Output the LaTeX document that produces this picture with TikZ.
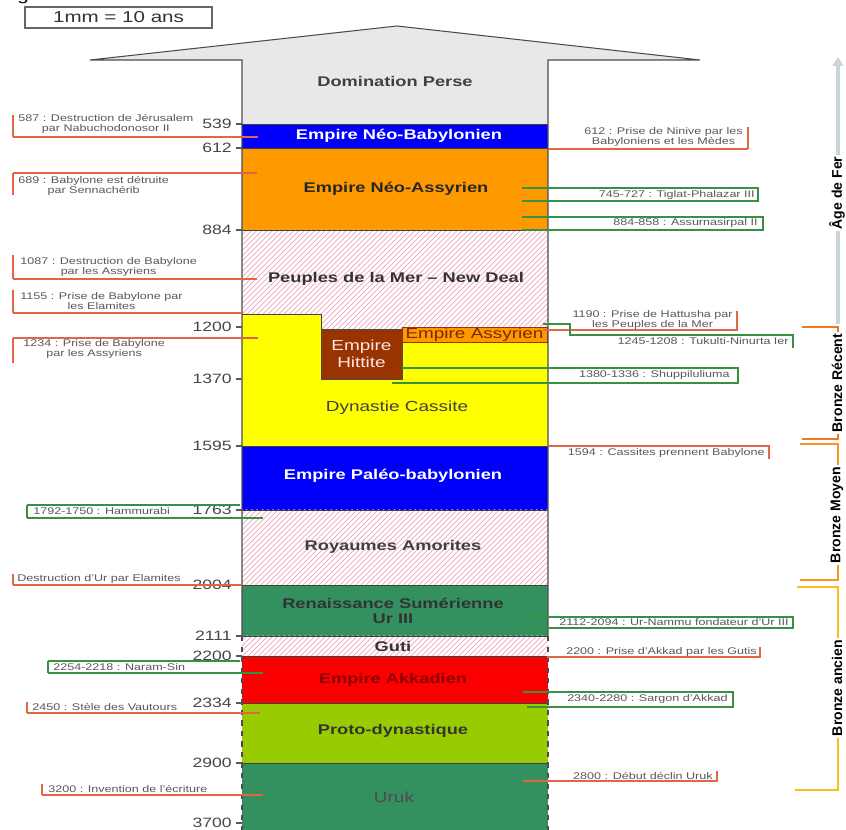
\documentclass[tikz,border=0pt]{standalone}
\usepackage{fontspec}
\setmainfont{Liberation Sans}[FakeStretch=1.3]
\newfontfamily\agefont{Liberation Sans}
\usetikzlibrary{patterns,arrows.meta,positioning}

\definecolor{perse}{RGB}{232,232,232}
\definecolor{bleu}{RGB}{0,0,250}
\definecolor{orangeass}{RGB}{255,153,0}
\definecolor{cassite}{RGB}{255,255,0}
\definecolor{hittite}{RGB}{153,51,0}
\definecolor{sumer}{RGB}{51,145,95}
\definecolor{akkad}{RGB}{250,0,0}
\definecolor{proto}{RGB}{153,204,0}
\definecolor{hachure}{RGB}{238,165,190}
\definecolor{evtrouge}{RGB}{228,100,70}
\definecolor{regnevert}{RGB}{55,145,65}
\definecolor{fer}{RGB}{200,213,218}
\definecolor{recent}{RGB}{240,120,35}
\definecolor{moyen}{RGB}{245,150,40}
\definecolor{ancien}{RGB}{250,190,35}

\begin{document}
\begin{tikzpicture}[x=0.02cm,y=-0.02cm,
  titre/.style={font=\fontsize{8}{9.5}\selectfont\bfseries,align=center,inner sep=0pt},
  region/.style={font=\fontsize{8.3}{9.5}\selectfont,align=center,inner sep=0pt},
  annee/.style={font=\fontsize{7.7}{9}\selectfont,text=black!72,inner sep=0pt},
  evt/.style={font=\fontsize{5.5}{5.8}\selectfont,text=black!65,align=center,inner sep=0pt},
  age/.style={font=\agefont\fontsize{8}{9}\selectfont\bfseries,fill=white,inner sep=1pt,rotate=90},
  hach/.style={pattern=north east lines,pattern color=hachure},
  limite/.style={draw=black!75,line width=0.5pt},
  bord/.style={draw=black!70,line width=0.6pt},
  tick/.style={draw=black!65,line width=0.6pt},
  evtbar/.style={draw=evtrouge,line width=1.4pt},
  evtline/.style={draw=evtrouge,line width=0.6pt},
  regbar/.style={draw=regnevert,line width=1.4pt},
  regline/.style={draw=regnevert,line width=0.6pt}]
\useasboundingbox (0,0) rectangle (846,830);
\fill[white] (0,0) rectangle (846,830);

% echelle
\node[anchor=south west,font=\fontsize{9}{10}\selectfont,inner sep=0pt] (fig) at (0,4) {Fig};
\draw[draw=black!60,line width=0.8pt] (25,7) rectangle (212,28);
\node[font=\fontsize{9}{10}\selectfont,text=black!80] (echelle) at (118.5,17.5) {1mm = 10 ans};

% periodes
\fill[perse] (90,60) -- (397,26) -- (700,60) -- (548,60) -- (548,124) -- (242,124) -- (242,60) -- cycle;
\fill[bleu] (242,124) rectangle (548,148);
\fill[orangeass] (242,148) rectangle (548,230);
\fill[hach] (242,230) rectangle (548,330);
\fill[cassite] (242,314) rectangle (321,446);
\fill[cassite] (321,329) rectangle (548,446);
\fill[bleu] (242,446) rectangle (548,510);
\fill[hach] (242,510) rectangle (548,585);
\fill[sumer] (242,585) rectangle (548,636);
\fill[hach] (242,636) rectangle (548,656);
\fill[akkad] (242,656) rectangle (548,703);
\fill[proto] (242,703) rectangle (548,763);
\fill[sumer] (242,763) rectangle (548,830);

\foreach \y in {124,148,230,446,510,585,636,656,703,763}
  \draw[limite] (242,\y) -- (548,\y);
\draw[limite] (242,314) -- (321,314) -- (321,329);

\node[draw=black!70,fill=hittite,text=red!10,minimum width=1.62cm,minimum height=1cm,
  region] (hittite) at (361.5,354) {Empire\\Hittite};
\node[draw=hittite,fill=orangeass,text=hittite!80!black,minimum width=2.9cm,minimum height=0.3cm,
  region] (assyrien) at (474.5,334.5) {Empire Assyrien};

\draw[bord] (242,636) -- (242,60) -- (90,60) -- (397,26) -- (700,60) -- (548,60) -- (548,636);
\draw[bord,dashed] (242,636) -- (242,830) (548,636) -- (548,830);

% noms
\node[titre,text=black!75] (perse) at (395,81) {Domination Perse};
\node[titre,text=white] (neobab) at (399,136) {Empire Néo-Babylonien};
\node[titre,text=black!85] (neoass) at (396,189) {Empire Néo-Assyrien};
\node[titre,text=black!80] (mer) at (396,279) {Peuples de la Mer – New Deal};
\node[region,text=black!75] (cassite) at (397,408) {Dynastie Cassite};
\node[titre,text=white] (paleo) at (393,476) {Empire Paléo-babylonien};
\node[titre,text=black!75] (amorites) at (393,547) {Royaumes Amorites};
\node[titre,text=black!80,font=\fontsize{8}{8.2}\selectfont\bfseries] (ur3) at (393,611) {Renaissance Sumérienne\\Ur III};
\node[titre,text=black!80] (guti) at (393,646) {Guti};
\node[titre,text=red!55!black] (akkad) at (393,680) {Empire Akkadien};
\node[titre,text=black!80] (protodyn) at (393,731) {Proto-dynastique};
\node[region,text=black!70] (uruk) at (394,797) {Uruk};

% annees
\foreach \an/\y in {539/124,612/148,884/230,1200/327,1370/379,1595/446,1763/510,
  2004/585,2111/636,2200/656,2334/703,2900/763,3700/823}{
  \node[annee,anchor=east] (a\an) at (232,\y) {\an};
  \coordinate (t\an) at (242,\y);
  \draw[tick] ([xshift=2pt]a\an.east) -- (t\an);
}

% evenements a gauche
\node[evt,anchor=west] (e587) at (18,124) {587 : Destruction de Jérusalem\\par Nabuchodonosor II};
\draw[evtbar] (13,115) -- (13,137);
\draw[evtline] (13,137) -- (258,137);
\node[evt,anchor=west] (e689) at (18,186) {689 : Babylone est détruite\\par Sennachérib};
\draw[evtbar] (13,173) -- (13,195);
\draw[evtline] (13,173) -- (257,173);
\node[evt,anchor=west] (e1087) at (20,267) {1087 : Destruction de Babylone\\par les Assyriens};
\draw[evtbar] (13,255) -- (13,279);
\draw[evtline] (13,279) -- (257,279);
\node[evt,anchor=west] (e1155) at (20,301) {1155 : Prise de Babylone par\\les Elamites};
\draw[evtbar] (13,290) -- (13,313);
\draw[evtline] (13,313) -- (242,313);
\node[evt,anchor=west] (e1234) at (23,349) {1234 : Prise de Babylone\\par les Assyriens};
\draw[evtbar] (13,338) -- (13,363);
\draw[evtline] (13,338) -- (258,338);
\node[evt,anchor=west] (hammurabi) at (33,511.5) {1792-1750 : Hammurabi};
\draw[regbar] (27,505) -- (27,518);
\draw[regline] (27,505) -- (240,505) (27,518) -- (263,518);
\node[evt,anchor=west] (eur) at (17,579) {Destruction d'Ur par Elamites};
\draw[evtbar] (13,574) -- (13,585);
\draw[evtline] (13,585) -- (242,585);
\node[evt,anchor=west] (naramsin) at (53,667) {2254-2218 : Naram-Sin};
\draw[regbar] (48,661) -- (48,673);
\draw[regline] (48,661) -- (240,661) (48,673) -- (263,673);
\node[evt,anchor=west] (e2450) at (32,707) {2450 : Stèle des Vautours};
\draw[evtbar] (27,702) -- (27,713);
\draw[evtline] (27,713) -- (260,713);
\node[evt,anchor=west] (e3200) at (48,789) {3200 : Invention de l'écriture};
\draw[evtbar] (42,784) -- (42,795);
\draw[evtline] (42,795) -- (263,795);

% evenements a droite
\node[evt,anchor=east] (e612) at (743,137) {612 : Prise de Ninive par les\\Babyloniens et les Mèdes};
\draw[evtbar] (748,127) -- (748,149);
\draw[evtline] (548,149) -- (748,149);
\node[evt,anchor=east] (tiglat) at (755,195) {745-727 : Tiglat-Phalazar III};
\draw[regbar] (758,187) -- (758,202);
\draw[regline] (522,188) -- (758,188) (522,201) -- (758,201);
\node[evt,anchor=east] (assurnasirpal) at (758,223.5) {884-858 : Assurnasirpal II};
\draw[regbar] (763,216) -- (763,231);
\draw[regline] (522,217) -- (763,217) (522,230) -- (763,230);
\node[evt,anchor=east] (e1190) at (733,320) {1190 : Prise de Hattusha par\\les Peuples de la Mer};
\draw[evtbar] (737,311) -- (737,331);
\draw[evtline] (543,330) -- (737,330);
\node[evt,anchor=east] (tukulti) at (789,341) {1245-1208 : Tukulti-Ninurta Ier};
\draw[regbar] (793,334) -- (793,348);
\draw[regline] (543,324) -- (570,324) -- (570,335) -- (793,335);
\node[evt,anchor=east] (shuppiluliuma) at (730,375.5) {1380-1336 : Shuppiluliuma};
\draw[regbar] (738,367) -- (738,384);
\draw[regline] (402,368) -- (738,368) (392,383) -- (738,383);
\node[evt,anchor=east] (e1594) at (765,453) {1594 : Cassites prennent Babylone};
\draw[evtbar] (769,445) -- (769,459);
\draw[evtline] (548,446) -- (769,446);
\node[evt,anchor=east] (urnammu) at (789,622.5) {2112-2094 : Ur-Nammu fondateur d'Ur III};
\draw[regbar] (793,616) -- (793,629);
\draw[regline] (523,617) -- (793,617) (523,628) -- (793,628);
\node[evt,anchor=east] (e2200) at (757,652) {2200 : Prise d'Akkad par les Gutis};
\draw[evtbar] (760,647) -- (760,658);
\draw[evtline] (547,657) -- (760,657);
\node[evt,anchor=east] (sargon) at (728,699.5) {2340-2280 : Sargon d'Akkad};
\draw[regbar] (733,691) -- (733,708);
\draw[regline] (523,692) -- (733,692) (527,707) -- (733,707);
\node[evt,anchor=east] (e2800) at (713,776) {2800 : Début déclin Uruk};
\draw[evtbar] (717,771) -- (717,782);
\draw[evtline] (523,781) -- (717,781);

% ages
\draw[fer,line width=2.5pt,-{Triangle[width=6pt,length=5pt]}] (838,324) -- (838,57);
\node[age] (agefer) at (837,193) {Âge de Fer};
\draw[recent,line width=1.3pt] (802,327) -- (838,327) -- (838,439) -- (802,439);
\node[age] (brecent) at (837,383) {Bronze Récent};
\draw[moyen,line width=1.3pt] (800,444) -- (838,444) -- (838,580) -- (800,580);
\node[age] (bmoyen) at (837,515) {Bronze Moyen};
\draw[ancien,line width=1.3pt] (797,587) -- (838,587) -- (838,790) -- (795,790);
\node[age] (bancien) at (837,688) {Bronze ancien};
\end{tikzpicture}
\end{document}
